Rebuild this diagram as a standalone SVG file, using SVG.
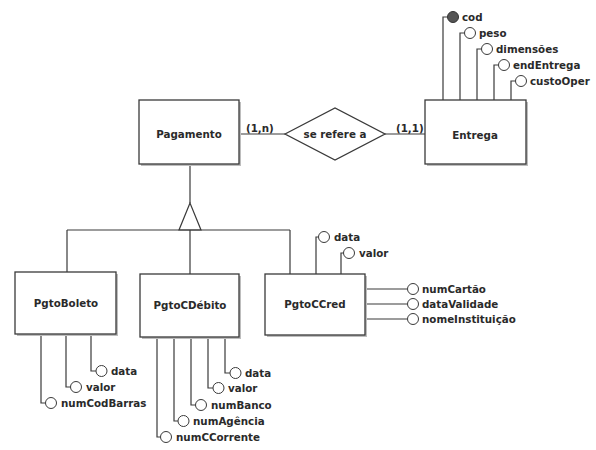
<svg xmlns="http://www.w3.org/2000/svg" width="596" height="450" viewBox="0 0 596 450">
<style>
.ent{fill:#fff;stroke:#3a3a3a;stroke-width:1.3}
.sh{fill:#bdbdbd}
.ln{fill:none;stroke:#3a3a3a;stroke-width:1.2}
.at{fill:#fff;stroke:#3a3a3a;stroke-width:1}
.pk{fill:#555;stroke:#333;stroke-width:1}
text{font-family:"DejaVu Sans",Verdana,sans-serif;font-weight:bold;font-size:10.3px;fill:#2a2a2a}
.c{text-anchor:middle}
</style>
<rect width="596" height="450" fill="#fff"/>
<g id="connectors">
<path class="ln" d="M239,134 H285 M385,134 H425"/>
<path class="ln" d="M190,164 V203"/>
<polygon class="ln" points="190,203 179,230 201,230" fill="#fff"/>
<path class="ln" d="M67,230 H290 M67,230 V272 M190,230 V274 M290,230 V274"/>
<path class="ln" d="M443,100 V17 H447.5 M460,100 V33 H464.5 M477,100 V49 H481.5 M494,100 V65 H498.5 M511,100 V81 H515.5"/>
<path class="ln" d="M316,274 V237 H318.5 M341,274 V253 H343.5"/>
<path class="ln" d="M365,289 H407.5 M365,304 H407.5 M365,319 H407.5"/>
<path class="ln" d="M91,334 V371 H96 M66,334 V387 H70.5 M41,334 V403 H45.5"/>
<path class="ln" d="M225,337 V373 H230 M208,337 V388 H213 M191,337 V405 H195.5 M174,337 V421 H178 M157,337 V437 H160.5"/>
</g>
<g id="Pagamento"><rect class="sh" x="141" y="102" width="100" height="64"/><rect class="ent" x="139" y="100" width="100" height="64"/><text class="c" x="189" y="138">Pagamento</text></g>
<g id="Entrega"><rect class="sh" x="427" y="102" width="101" height="64"/><rect class="ent" x="425" y="100" width="101" height="64"/><text class="c" x="475" y="138.5">Entrega</text></g>
<g id="se-refere-a"><polygon class="ent" points="285,134 335,108 385,134 335,160"/><text class="c" x="335" y="138">se refere a</text></g>
<g id="card-labels"><text x="246" y="132">(1,n)</text><text x="396" y="132">(1,1)</text></g>
<g id="PgtoBoleto"><rect class="sh" x="17" y="274" width="101" height="62"/><rect class="ent" x="15" y="272" width="101" height="62"/><text class="c" x="66" y="307">PgtoBoleto</text></g>
<g id="PgtoCDebito"><rect class="sh" x="142" y="276" width="99" height="63"/><rect class="ent" x="140" y="274" width="99" height="63"/><text class="c" x="190" y="309">PgtoCDébito</text></g>
<g id="PgtoCCred"><rect class="sh" x="267" y="276" width="100" height="61"/><rect class="ent" x="265" y="274" width="100" height="61"/><text class="c" x="315" y="308">PgtoCCred</text></g>
<g id="attr-cod"><circle class="pk" cx="453" cy="17" r="5.5"/><text x="462" y="20.5">cod</text></g>
<g id="attr-peso"><circle class="at" cx="470" cy="33" r="5.5"/><text x="479" y="36.5">peso</text></g>
<g id="attr-dimensoes"><circle class="at" cx="487" cy="49" r="5.5"/><text x="496" y="52.5">dimensões</text></g>
<g id="attr-endEntrega"><circle class="at" cx="504" cy="65" r="5.5"/><text x="513" y="68.5">endEntrega</text></g>
<g id="attr-custoOper"><circle class="at" cx="521" cy="81" r="5.5"/><text x="530" y="84.5">custoOper</text></g>
<g id="attr-cc-data"><circle class="at" cx="324" cy="237" r="5.5"/><text x="334" y="240.5">data</text></g>
<g id="attr-cc-valor"><circle class="at" cx="349" cy="253" r="5.5"/><text x="359" y="256.5">valor</text></g>
<g id="attr-numCartao"><circle class="at" cx="413" cy="289" r="5.5"/><text x="422" y="292.5">numCartão</text></g>
<g id="attr-dataValidade"><circle class="at" cx="413" cy="304" r="5.5"/><text x="422" y="307.5">dataValidade</text></g>
<g id="attr-nomeInstituicao"><circle class="at" cx="413" cy="319" r="5.5"/><text x="422" y="322.5">nomeInstituição</text></g>
<g id="attr-b-data"><circle class="at" cx="101.5" cy="371" r="5.5"/><text x="111" y="374.5">data</text></g>
<g id="attr-b-valor"><circle class="at" cx="76" cy="387" r="5.5"/><text x="86" y="390.5">valor</text></g>
<g id="attr-numCodBarras"><circle class="at" cx="51" cy="403" r="5.5"/><text x="61" y="406.5">numCodBarras</text></g>
<g id="attr-d-data"><circle class="at" cx="235.5" cy="373" r="5.5"/><text x="245" y="376.5">data</text></g>
<g id="attr-d-valor"><circle class="at" cx="218.5" cy="388" r="5.5"/><text x="228" y="391.5">valor</text></g>
<g id="attr-numBanco"><circle class="at" cx="201" cy="405" r="5.5"/><text x="211" y="408.5">numBanco</text></g>
<g id="attr-numAgencia"><circle class="at" cx="183.5" cy="421" r="5.5"/><text x="193" y="424.5">numAgência</text></g>
<g id="attr-numCCorrente"><circle class="at" cx="166" cy="437" r="5.5"/><text x="176" y="440.5">numCCorrente</text></g>
</svg>
